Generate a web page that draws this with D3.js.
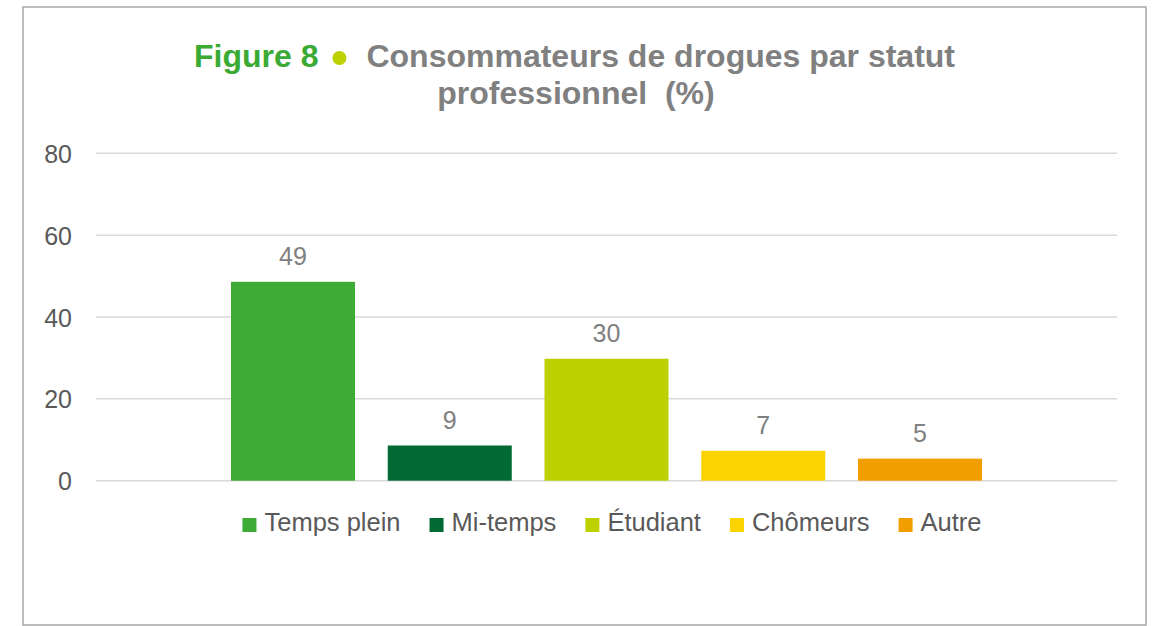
<!DOCTYPE html>
<html>
<head>
<meta charset="utf-8">
<script src="https://cdn.jsdelivr.net/npm/d3@7"></script>
<style>
  html, body { margin: 0; padding: 0; background: #ffffff; }
  svg { display: block; font-family: "Liberation Sans", Arial, sans-serif; }
</style>
</head>
<body>
<svg id="chart" width="1153" height="626"></svg>
<script>
const categories = ["Temps plein", "Mi-temps", "Étudiant", "Chômeurs", "Autre"];
const values = [48.6, 8.6, 29.8, 7.3, 5.4];
const colors = ["#3dab35", "#006934", "#bdd000", "#fad400", "#f29e00"];
const yTicks = [0, 20, 40, 60, 80];
const titleLead = "Figure 8";
const titleLine1 = "Consommateurs de drogues par statut";
const titleLine2 = "professionnel  (%)";

const svg = d3.select("#chart");

// frame
svg.append("rect")
  .attr("x", 23).attr("y", 7).attr("width", 1123).attr("height", 618)
  .attr("fill", "#fff").attr("stroke", "#a6a6a6").attr("stroke-width", 1.5);

const plotLeft = 96, plotRight = 1117;
const y = d3.scaleLinear().domain([0, 80]).range([480.7, 153.3]);

const step = 156.75, barW = 124;
const pIn = (step - barW) / step;
const x = d3.scaleBand().domain(categories)
  .range([231 - (step - barW) / 2, 231 - (step - barW) / 2 + step * 5])
  .paddingInner(pIn).paddingOuter(pIn / 2);

// gridlines
svg.append("g").selectAll("line").data(yTicks).join("line")
  .attr("x1", plotLeft).attr("x2", plotRight)
  .attr("y1", d => y(d)).attr("y2", d => y(d))
  .attr("stroke", "#d9d9d9").attr("stroke-width", 1.5);

// y axis labels
const yAxis = d3.axisLeft(y).tickValues(yTicks).tickSize(0).tickPadding(0);
const gy = svg.append("g").attr("transform", "translate(72,0)").call(yAxis);
gy.select(".domain").remove();
gy.selectAll("text")
  .attr("font-size", "25px").attr("fill", "#595959")
  .attr("font-family", "Liberation Sans, Arial, sans-serif")
  .attr("dy", "0.36em");

// bars
svg.append("g").selectAll("rect").data(categories).join("rect")
  .attr("x", d => x(d)).attr("width", x.bandwidth())
  .attr("y", (d, i) => y(values[i]))
  .attr("height", (d, i) => y(0) - y(values[i]))
  .attr("fill", (d, i) => colors[i]);

// value labels
const fmt = d3.format(".0f");
svg.append("g").selectAll("text").data(categories).join("text")
  .attr("x", d => x(d) + x.bandwidth() / 2)
  .attr("y", (d, i) => y(values[i]) - 17)
  .attr("text-anchor", "middle")
  .attr("font-size", "25px").attr("fill", "#7f7f7f")
  .text((d, i) => fmt(values[i]));

// title line 1: lead + dot + text, laid out and centred
const tg = svg.append("g");
const lead = tg.append("text").attr("x", 0).attr("y", 67)
  .attr("font-size", "32px").attr("font-weight", "bold").attr("fill", "#3aaa35").text(titleLead);
const wLead = lead.node().getComputedTextLength();
const dotR = 7, gap1 = 14, gap2 = 20;
tg.append("circle").attr("cx", wLead + gap1 + dotR).attr("cy", 58).attr("r", dotR).attr("fill", "#bdd000");
const rest = tg.append("text").attr("x", wLead + gap1 + 2 * dotR + gap2).attr("y", 67)
  .attr("font-size", "32px").attr("font-weight", "bold").attr("fill", "#808080").text(titleLine1);
const wAll = wLead + gap1 + 2 * dotR + gap2 + rest.node().getComputedTextLength();
tg.attr("transform", `translate(${574.5 - wAll / 2},0)`);

svg.append("text").attr("x", 576).attr("y", 104)
  .attr("text-anchor", "middle").attr("font-size", "32px").attr("font-weight", "bold")
  .attr("fill", "#808080").style("white-space", "pre").text(titleLine2);

// legend
const lg = svg.append("g");
const sq = 14, textGap = 22, itemGap = 29;
let cx = 0;
categories.forEach((c, i) => {
  const g = lg.append("g").attr("transform", `translate(${cx},0)`);
  g.append("rect").attr("x", 0).attr("y", -13).attr("width", sq).attr("height", sq).attr("fill", colors[i]);
  const t = g.append("text").attr("x", textGap).attr("y", 0)
    .attr("font-size", "25.5px").attr("fill", "#595959").text(c);
  const w = t.node().getComputedTextLength();
  cx += textGap + w + itemGap;
});
const totalW = cx - itemGap;
lg.attr("transform", `translate(${612 - totalW / 2},531)`);
</script>
</body>
</html>
